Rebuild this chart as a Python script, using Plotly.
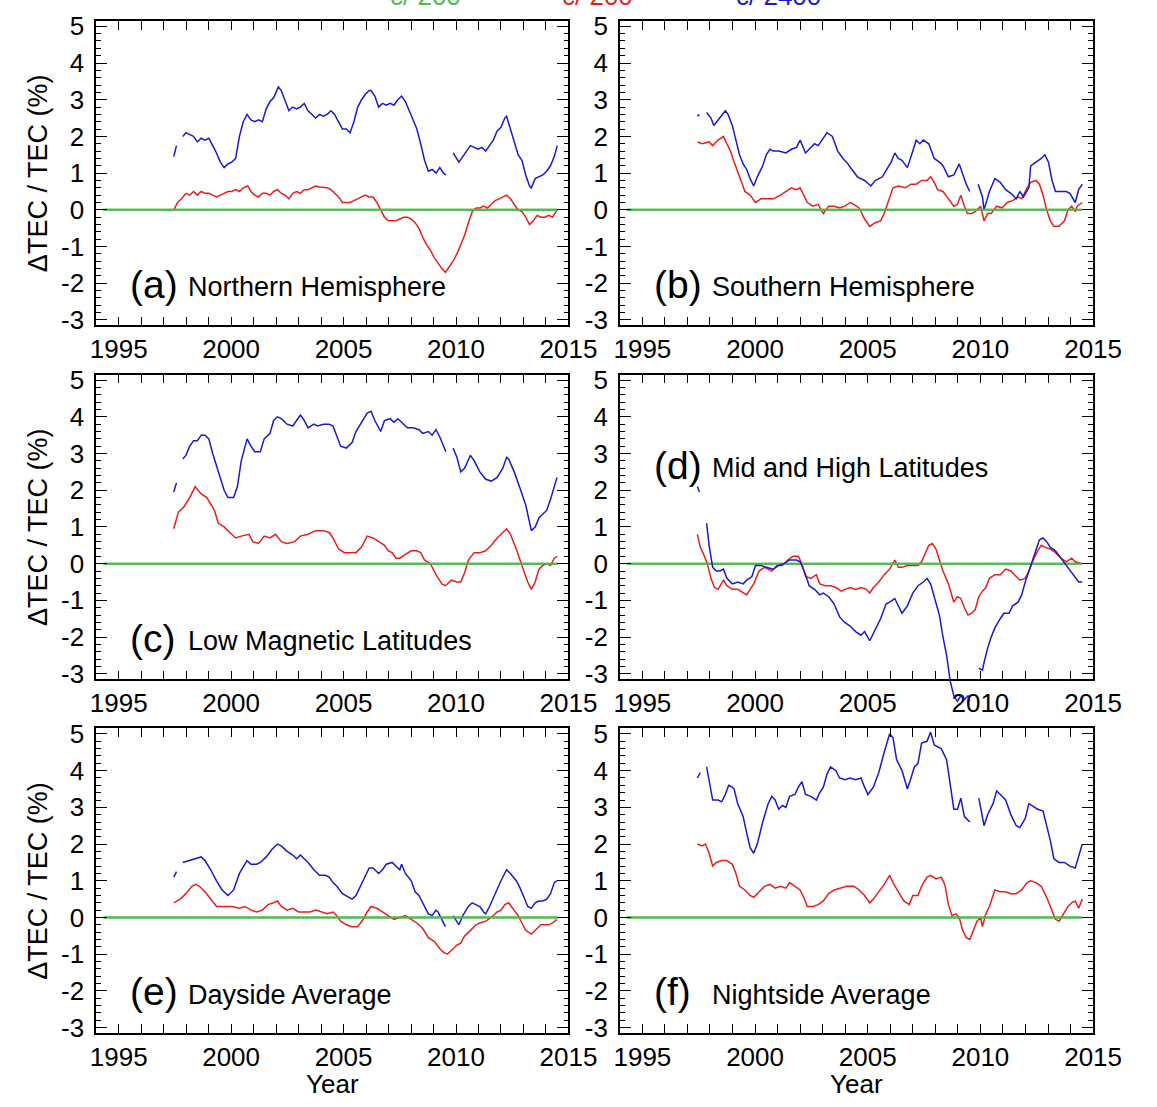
import plotly.graph_objects as go

# ---------------- data (year, dTEC/TEC %) ; None marks a gap ----------------
a_blue = [(1997.45,1.45),(1997.57,1.75),None,
 (1997.85,2.0),(1997.99,2.1),(1998.16,2.05),(1998.33,2.0),(1998.50,1.85),(1998.67,1.95),(1998.84,1.9),(1999.01,1.95),
 (1999.18,1.75),(1999.35,1.55),(1999.52,1.3),(1999.69,1.15),(1999.86,1.25),(2000.03,1.3),(2000.20,1.4),(2000.37,2.0),
 (2000.54,2.4),(2000.71,2.6),(2000.88,2.45),(2001.05,2.4),(2001.22,2.45),(2001.39,2.4),(2001.56,2.75),(2001.73,2.95),
 (2001.89,3.05),(2002.10,3.35),(2002.23,3.25),(2002.40,3.0),(2002.57,2.7),(2002.74,2.8),(2002.91,2.75),(2003.08,2.8),
 (2003.25,2.9),(2003.42,2.7),(2003.59,2.6),(2003.76,2.5),(2003.93,2.6),(2004.10,2.55),(2004.27,2.6),(2004.44,2.7),
 (2004.60,2.6),(2004.78,2.4),(2004.95,2.2),(2005.12,2.2),(2005.29,2.1),(2005.46,2.4),(2005.63,2.8),(2005.80,3.0),
 (2005.97,3.15),(2006.14,3.25),(2006.22,3.25),(2006.39,3.1),(2006.56,2.8),(2006.73,2.9),(2006.90,2.85),(2007.07,2.9),
 (2007.24,2.85),(2007.41,3.0),(2007.58,3.1),(2007.75,2.95),(2007.92,2.7),(2008.09,2.4),(2008.26,2.2),(2008.43,1.8),
 (2008.60,1.35),(2008.77,1.05),(2008.94,1.1),(2009.11,1.0),(2009.28,1.15),(2009.45,1.0),(2009.55,0.95),None,
 (2009.87,1.55),(2010.04,1.4),(2010.13,1.3),(2010.30,1.45),(2010.47,1.6),(2010.64,1.75),(2010.81,1.7),(2010.98,1.65),
 (2011.15,1.7),(2011.32,1.6),(2011.49,1.75),(2011.66,1.9),(2011.83,2.15),(2012.00,2.25),(2012.17,2.5),(2012.25,2.55),
 (2012.42,2.2),(2012.59,1.85),(2012.76,1.5),(2012.93,1.35),(2013.10,0.95),(2013.27,0.65),(2013.35,0.6),(2013.52,0.85),
 (2013.69,0.9),(2013.86,0.95),(2014.03,1.05),(2014.20,1.2),(2014.37,1.45),(2014.50,1.75)]

a_red = [(1997.45,0.0),(1997.62,0.2),(1997.80,0.3),(1997.99,0.45),(1998.16,0.4),(1998.33,0.5),(1998.50,0.4),(1998.67,0.5),
 (1998.84,0.45),(1999.01,0.45),(1999.18,0.4),(1999.35,0.35),(1999.52,0.4),(1999.69,0.45),(1999.86,0.5),(2000.03,0.5),
 (2000.20,0.55),(2000.37,0.5),(2000.54,0.6),(2000.74,0.65),(2000.88,0.5),(2001.05,0.4),(2001.22,0.35),(2001.39,0.45),
 (2001.56,0.45),(2001.73,0.4),(2001.89,0.5),(2002.06,0.55),(2002.23,0.45),(2002.40,0.4),(2002.57,0.3),(2002.74,0.45),
 (2002.91,0.5),(2003.08,0.45),(2003.25,0.55),(2003.42,0.55),(2003.59,0.6),(2003.76,0.65),(2003.93,0.62),(2004.10,0.6),
 (2004.27,0.6),(2004.44,0.55),(2004.60,0.45),(2004.78,0.35),(2004.95,0.2),(2005.12,0.2),(2005.29,0.2),(2005.46,0.25),
 (2005.63,0.3),(2005.80,0.35),(2005.97,0.4),(2006.14,0.35),(2006.31,0.35),(2006.48,0.2),(2006.65,0.0),(2006.82,-0.2),
 (2006.99,-0.3),(2007.16,-0.3),(2007.33,-0.3),(2007.50,-0.25),(2007.67,-0.2),(2007.84,-0.2),(2008.01,-0.25),(2008.18,-0.35),
 (2008.35,-0.5),(2008.52,-0.75),(2008.69,-0.95),(2008.86,-1.1),(2009.03,-1.3),(2009.20,-1.45),(2009.37,-1.6),(2009.53,-1.7),
 (2009.70,-1.55),(2009.87,-1.4),(2010.04,-1.2),(2010.21,-0.95),(2010.38,-0.7),(2010.55,-0.35),(2010.72,-0.05),(2010.89,0.05),
 (2011.06,0.05),(2011.23,0.1),(2011.40,0.05),(2011.57,0.15),(2011.74,0.25),(2011.91,0.3),(2012.08,0.35),(2012.25,0.4),
 (2012.42,0.3),(2012.59,0.15),(2012.76,0.0),(2012.93,-0.05),(2013.10,-0.2),(2013.27,-0.4),(2013.44,-0.3),(2013.61,-0.15),
 (2013.78,-0.2),(2013.95,-0.2),(2014.12,-0.15),(2014.29,-0.2),(2014.50,0.0)]

b_blue = [(1997.44,2.55),(1997.53,2.6),None,
 (1997.85,2.65),(1998.04,2.5),(1998.17,2.3),(1998.36,2.45),(1998.52,2.55),(1998.68,2.7),(1998.80,2.6),(1998.99,2.3),
 (1999.15,1.9),(1999.31,1.5),(1999.47,1.25),(1999.63,1.1),(1999.78,0.85),(1999.94,0.65),(2000.10,0.9),(2000.34,1.2),
 (2000.50,1.5),(2000.66,1.65),(2000.81,1.6),(2001.05,1.6),(2001.37,1.55),(2001.61,1.65),(2001.84,1.7),(2002.00,1.9),
 (2002.24,1.55),(2002.40,1.65),(2002.64,1.8),(2002.80,1.75),(2002.98,1.9),(2003.19,2.1),(2003.43,2.0),(2003.67,1.6),
 (2003.90,1.4),(2004.06,1.3),(2004.30,1.1),(2004.54,0.9),(2004.86,0.8),(2005.14,0.65),(2005.33,0.8),(2005.65,0.9),
 (2005.89,1.15),(2006.04,1.3),(2006.20,1.55),(2006.36,1.4),(2006.52,1.35),(2006.76,1.15),(2007.00,1.6),(2007.15,1.9),
 (2007.31,1.8),(2007.47,1.9),(2007.71,1.8),(2007.95,1.4),(2008.18,1.3),(2008.34,1.2),(2008.58,0.9),(2008.82,0.95),
 (2009.06,1.25),(2009.21,1.0),(2009.37,0.7),(2009.53,0.5),None,
 (2009.90,0.7),(2010.09,0.35),(2010.16,0.0),(2010.40,0.5),(2010.64,0.85),(2010.88,0.75),(2011.12,0.55),(2011.35,0.45),
 (2011.59,0.3),(2011.75,0.5),(2011.91,0.35),(2012.15,0.6),(2012.23,1.2),(2012.46,1.3),(2012.70,1.4),(2012.86,1.5),
 (2013.02,1.3),(2013.18,0.8),(2013.33,0.5),(2013.57,0.5),(2013.81,0.5),(2013.97,0.45),(2014.21,0.2),(2014.36,0.55),
 (2014.52,0.7)]

b_red = [(1997.44,1.85),(1997.65,1.8),(1997.96,1.85),(1998.12,1.75),(1998.36,1.9),(1998.60,2.0),(1998.75,1.8),(1998.91,1.6),
 (1999.07,1.3),(1999.31,0.9),(1999.55,0.5),(1999.78,0.4),(2000.02,0.2),(2000.26,0.3),(2000.50,0.3),(2000.81,0.3),
 (2001.13,0.4),(2001.37,0.5),(2001.61,0.6),(2001.84,0.55),(2002.00,0.6),(2002.16,0.4),(2002.32,0.2),(2002.56,0.1),
 (2002.80,0.15),(2003.03,-0.1),(2003.27,0.1),(2003.51,0.1),(2003.75,0.05),(2003.98,0.1),(2004.22,0.2),(2004.38,0.15),
 (2004.62,0.05),(2004.86,-0.25),(2005.09,-0.45),(2005.33,-0.35),(2005.57,-0.3),(2005.73,-0.1),(2005.89,0.2),(2006.12,0.6),
 (2006.36,0.65),(2006.68,0.6),(2006.92,0.7),(2007.15,0.7),(2007.39,0.8),(2007.63,0.8),(2007.79,0.9),(2007.95,0.75),
 (2008.10,0.55),(2008.34,0.5),(2008.58,0.3),(2008.82,0.1),(2008.98,0.15),(2009.13,0.4),(2009.29,0.1),(2009.42,-0.1),
 (2009.61,-0.1),(2009.77,-0.05),(2009.93,0.05),(2010.01,0.1),(2010.16,-0.3),(2010.32,-0.1),(2010.48,-0.1),(2010.72,0.1),
 (2010.96,0.05),(2011.19,0.2),(2011.43,0.25),(2011.67,0.35),(2011.83,0.3),(2012.07,0.6),(2012.23,0.75),(2012.46,0.8),
 (2012.62,0.7),(2012.78,0.4),(2012.94,0.0),(2013.10,-0.3),(2013.26,-0.45),(2013.49,-0.45),(2013.73,-0.3),(2013.89,0.0),
 (2014.05,0.1),(2014.21,-0.05),(2014.29,0.1),(2014.52,0.2)]

c_blue = [(1997.45,1.95),(1997.57,2.2),None,
 (1997.85,2.85),(1997.99,2.95),(1998.16,3.2),(1998.33,3.35),(1998.50,3.35),(1998.67,3.5),(1998.84,3.5),(1999.01,3.4),
 (1999.18,3.0),(1999.43,2.5),(1999.69,2.0),(1999.86,1.8),(2000.11,1.8),(2000.28,2.1),(2000.45,2.8),(2000.71,3.4),
 (2000.88,3.2),(2001.05,3.05),(2001.30,3.05),(2001.47,3.4),(2001.73,3.55),(2001.89,3.9),(2002.06,4.0),(2002.23,3.95),
 (2002.49,3.8),(2002.74,3.75),(2002.91,3.9),(2003.08,4.05),(2003.25,3.9),(2003.42,3.7),(2003.68,3.8),(2003.85,3.75),
 (2004.10,3.8),(2004.36,3.8),(2004.53,3.75),(2004.70,3.5),(2004.87,3.2),(2005.12,3.15),(2005.38,3.3),(2005.55,3.6),
 (2005.80,3.85),(2006.05,4.1),(2006.22,4.15),(2006.39,3.9),(2006.65,3.6),(2006.82,3.9),(2007.07,3.95),(2007.24,3.85),
 (2007.41,3.95),(2007.58,3.85),(2007.84,3.7),(2008.09,3.7),(2008.35,3.65),(2008.52,3.55),(2008.77,3.6),(2008.94,3.5),
 (2009.11,3.65),(2009.28,3.45),(2009.55,3.05),None,
 (2009.87,3.15),(2010.04,2.9),(2010.21,2.5),(2010.38,2.6),(2010.64,2.95),(2010.81,2.8),(2011.06,2.5),(2011.32,2.3),
 (2011.57,2.25),(2011.83,2.35),(2012.08,2.6),(2012.25,2.9),(2012.34,2.85),(2012.59,2.5),(2012.85,2.05),(2013.10,1.6),
 (2013.35,0.9),(2013.52,1.0),(2013.69,1.25),(2013.86,1.35),(2014.03,1.45),(2014.20,1.75),(2014.37,2.1),(2014.49,2.35)]

c_red = [(1997.45,0.95),(1997.65,1.4),(1997.90,1.55),(1998.16,1.8),(1998.40,2.1),(1998.67,1.9),(1998.92,1.8),(1999.26,1.45),
 (1999.43,1.1),(1999.69,1.0),(1999.94,0.85),(2000.20,0.7),(2000.45,0.75),(2000.79,0.8),(2000.96,0.6),(2001.22,0.55),
 (2001.47,0.75),(2001.73,0.7),(2001.98,0.8),(2002.23,0.6),(2002.49,0.55),(2002.83,0.6),(2003.08,0.75),(2003.42,0.8),
 (2003.76,0.9),(2004.10,0.9),(2004.36,0.85),(2004.53,0.7),(2004.78,0.4),(2005.04,0.3),(2005.29,0.3),(2005.55,0.3),
 (2005.80,0.45),(2006.05,0.75),(2006.31,0.7),(2006.56,0.6),(2006.82,0.5),(2006.99,0.35),(2007.16,0.3),(2007.33,0.15),
 (2007.50,0.15),(2007.75,0.25),(2008.01,0.35),(2008.26,0.35),(2008.43,0.3),(2008.60,0.1),(2008.86,0.0),(2009.11,-0.3),
 (2009.37,-0.55),(2009.53,-0.6),(2009.79,-0.45),(2010.04,-0.5),(2010.21,-0.5),(2010.38,-0.25),(2010.55,0.1),(2010.81,0.3),
 (2011.06,0.3),(2011.32,0.35),(2011.57,0.5),(2011.83,0.7),(2012.08,0.85),(2012.25,0.95),(2012.42,0.8),(2012.68,0.4),
 (2012.93,-0.05),(2013.19,-0.5),(2013.35,-0.7),(2013.52,-0.5),(2013.69,-0.15),(2013.86,-0.05),(2014.03,0.0),(2014.20,-0.05),
 (2014.37,0.15),(2014.49,0.2)]

d_blue = [(1997.44,2.1),(1997.53,1.95),None,
 (1997.85,1.1),(1997.96,0.5),(1998.12,-0.1),(1998.28,-0.2),(1998.44,-0.2),(1998.60,-0.15),(1998.75,-0.4),(1998.99,-0.55),
 (1999.23,-0.5),(1999.47,-0.55),(1999.63,-0.45),(1999.86,-0.35),(2000.02,-0.05),(2000.26,-0.05),(2000.50,-0.1),
 (2000.81,-0.15),(2001.05,-0.05),(2001.29,0.0),(2001.53,0.1),(2001.84,0.1),(2002.00,0.05),(2002.24,-0.3),(2002.40,-0.6),
 (2002.64,-0.7),(2002.87,-0.85),(2003.03,-0.8),(2003.27,-0.9),(2003.51,-1.1),(2003.75,-1.45),(2003.98,-1.6),(2004.22,-1.7),
 (2004.46,-1.85),(2004.70,-1.95),(2004.86,-1.85),(2005.09,-2.1),(2005.33,-1.8),(2005.57,-1.5),(2005.81,-1.1),(2005.97,-1.05),
 (2006.20,-0.95),(2006.36,-1.15),(2006.52,-1.35),(2006.76,-1.15),(2007.00,-0.8),(2007.23,-0.6),(2007.47,-0.5),(2007.63,-0.4),
 (2007.79,-0.55),(2007.95,-0.9),(2008.18,-1.4),(2008.34,-2.0),(2008.50,-2.5),(2008.66,-3.2),(2008.82,-3.6),(2008.98,-3.75),
 (2009.13,-3.6),(2009.29,-3.7),(2009.45,-3.6),(2009.53,-3.75),None,
 (2009.93,-2.85),(2010.09,-2.9),(2010.16,-2.7),(2010.32,-2.3),(2010.48,-2.0),(2010.64,-1.75),(2010.88,-1.5),(2011.04,-1.35),
 (2011.27,-1.35),(2011.43,-1.15),(2011.67,-1.05),(2011.83,-0.85),(2011.99,-0.5),(2012.15,-0.2),(2012.30,0.1),(2012.46,0.4),
 (2012.62,0.65),(2012.78,0.7),(2012.94,0.6),(2013.10,0.45),(2013.33,0.35),(2013.57,0.15),(2013.81,-0.05),(2013.97,-0.2),
 (2014.21,-0.4),(2014.36,-0.5),(2014.52,-0.5)]

d_red = [(1997.44,0.8),(1997.57,0.45),(1997.72,0.25),(1997.88,0.0),(1998.04,-0.4),(1998.20,-0.65),(1998.36,-0.7),(1998.60,-0.45),
 (1998.75,-0.6),(1998.99,-0.7),(1999.23,-0.7),(1999.47,-0.8),(1999.63,-0.85),(1999.78,-0.7),(1999.94,-0.55),(2000.18,-0.2),
 (2000.42,-0.1),(2000.74,-0.2),(2000.97,-0.05),(2001.21,-0.05),(2001.45,0.1),(2001.69,0.2),(2001.92,0.2),(2002.08,0.0),
 (2002.24,-0.35),(2002.48,-0.4),(2002.72,-0.3),(2002.87,-0.55),(2003.11,-0.6),(2003.35,-0.6),(2003.59,-0.65),(2003.83,-0.75),
 (2003.98,-0.7),(2004.22,-0.65),(2004.46,-0.7),(2004.70,-0.65),(2004.94,-0.7),(2005.09,-0.8),(2005.25,-0.65),(2005.49,-0.5),
 (2005.73,-0.3),(2005.97,-0.15),(2006.20,0.1),(2006.36,-0.1),(2006.52,-0.1),(2006.76,-0.05),(2007.00,-0.05),(2007.23,-0.05),
 (2007.39,0.05),(2007.55,0.3),(2007.71,0.5),(2007.87,0.55),(2008.03,0.4),(2008.18,0.1),(2008.34,-0.2),(2008.58,-0.55),
 (2008.82,-1.05),(2008.98,-0.9),(2009.13,-0.95),(2009.29,-1.2),(2009.45,-1.4),(2009.61,-1.35),(2009.77,-1.25),(2009.93,-0.9),
 (2010.09,-0.75),(2010.24,-0.65),(2010.40,-0.4),(2010.64,-0.3),(2010.88,-0.3),(2011.12,-0.15),(2011.35,-0.2),(2011.51,-0.3),
 (2011.75,-0.45),(2011.99,-0.4),(2012.15,-0.2),(2012.38,0.15),(2012.54,0.35),(2012.70,0.5),(2012.86,0.45),(2013.10,0.4),
 (2013.33,0.3),(2013.57,0.15),(2013.81,0.05),(2014.05,0.15),(2014.21,0.05),(2014.52,0.0)]

e_blue = [(1997.45,1.1),(1997.57,1.25),None,
 (1997.85,1.5),(1998.16,1.55),(1998.40,1.6),(1998.67,1.65),(1998.84,1.55),(1999.09,1.3),(1999.35,1.0),(1999.60,0.75),
 (1999.86,0.6),(2000.11,0.75),(2000.37,1.2),(2000.71,1.55),(2000.88,1.45),(2001.13,1.45),(2001.30,1.5),(2001.56,1.65),
 (2001.81,1.85),(2002.06,2.0),(2002.23,1.95),(2002.49,1.8),(2002.74,1.7),(2002.91,1.6),(2003.08,1.7),(2003.25,1.6),
 (2003.42,1.5),(2003.68,1.3),(2003.93,1.15),(2004.19,1.15),(2004.36,1.1),(2004.53,0.95),(2004.70,0.85),(2004.95,0.65),
 (2005.21,0.55),(2005.38,0.5),(2005.55,0.6),(2005.71,0.8),(2005.97,1.1),(2006.14,1.35),(2006.31,1.35),(2006.56,1.2),
 (2006.73,1.3),(2006.90,1.45),(2007.16,1.5),(2007.33,1.4),(2007.50,1.3),(2007.58,1.45),(2007.75,1.2),(2008.01,1.0),
 (2008.18,0.7),(2008.35,0.6),(2008.52,0.4),(2008.77,0.1),(2008.94,0.05),(2009.11,0.2),(2009.20,0.15),(2009.37,-0.05),
 (2009.53,-0.25),None,
 (2009.87,0.05),(2010.04,-0.1),(2010.13,-0.2),(2010.30,0.05),(2010.55,0.3),(2010.72,0.4),(2010.89,0.35),(2011.06,0.3),
 (2011.23,0.15),(2011.32,0.1),(2011.49,0.3),(2011.74,0.65),(2012.00,1.0),(2012.25,1.3),(2012.42,1.2),(2012.68,1.0),
 (2012.85,0.8),(2013.02,0.55),(2013.19,0.3),(2013.35,0.25),(2013.52,0.4),(2013.69,0.45),(2013.86,0.45),(2014.03,0.5),
 (2014.20,0.65),(2014.37,0.95),(2014.49,1.0)]

e_red = [(1997.45,0.4),(1997.74,0.5),(1997.99,0.65),(1998.25,0.85),(1998.42,0.9),(1998.59,0.85),(1998.84,0.7),(1999.09,0.5),
 (1999.35,0.3),(1999.69,0.3),(2000.03,0.3),(2000.37,0.25),(2000.62,0.3),(2000.88,0.2),(2001.13,0.15),(2001.39,0.2),
 (2001.64,0.35),(2001.89,0.4),(2002.06,0.45),(2002.23,0.3),(2002.49,0.2),(2002.74,0.25),(2003.00,0.15),(2003.25,0.15),
 (2003.51,0.15),(2003.76,0.2),(2004.02,0.15),(2004.27,0.1),(2004.53,0.15),(2004.70,0.05),(2004.87,-0.1),(2005.12,-0.2),
 (2005.38,-0.25),(2005.63,-0.25),(2005.88,-0.05),(2006.05,0.15),(2006.22,0.3),(2006.48,0.25),(2006.73,0.15),(2006.99,0.05),
 (2007.24,-0.05),(2007.50,0.0),(2007.75,0.05),(2008.01,-0.05),(2008.26,-0.15),(2008.52,-0.3),(2008.77,-0.55),(2009.03,-0.65),
 (2009.28,-0.85),(2009.45,-0.95),(2009.62,-1.0),(2009.79,-0.9),(2010.04,-0.75),(2010.21,-0.7),(2010.38,-0.5),(2010.64,-0.35),
 (2010.89,-0.2),(2011.06,-0.15),(2011.32,-0.1),(2011.57,0.0),(2011.83,0.15),(2012.00,0.2),(2012.17,0.35),(2012.34,0.4),
 (2012.51,0.25),(2012.76,0.05),(2012.93,-0.15),(2013.10,-0.35),(2013.35,-0.45),(2013.52,-0.35),(2013.78,-0.2),(2014.12,-0.2),
 (2014.29,-0.15),(2014.49,-0.05)]

f_blue = [(1997.44,3.8),(1997.57,3.95),None,
 (1997.85,4.1),(1997.96,3.7),(1998.12,3.2),(1998.36,3.2),(1998.52,3.15),(1998.68,3.35),(1998.83,3.6),(1998.99,3.55),
 (1999.07,3.5),(1999.23,3.1),(1999.47,2.75),(1999.63,2.3),(1999.78,1.9),(1999.94,1.75),(2000.10,2.0),(2000.34,2.6),
 (2000.58,3.1),(2000.74,3.3),(2000.89,3.2),(2001.05,2.95),(2001.21,3.05),(2001.37,3.0),(2001.53,3.3),(2001.77,3.35),
 (2001.92,3.55),(2002.08,3.7),(2002.24,3.35),(2002.48,3.3),(2002.72,3.2),(2002.87,3.4),(2003.03,3.55),(2003.19,3.9),
 (2003.35,4.1),(2003.59,4.0),(2003.75,3.8),(2003.98,3.75),(2004.22,3.8),(2004.46,3.75),(2004.70,3.8),(2004.86,3.55),
 (2005.01,3.35),(2005.25,3.55),(2005.49,3.95),(2005.73,4.5),(2005.97,5.0),(2006.12,4.9),(2006.28,4.3),(2006.52,4.0),
 (2006.76,3.5),(2006.92,3.8),(2007.07,4.1),(2007.23,4.2),(2007.39,4.75),(2007.63,4.8),(2007.79,5.05),(2007.95,4.7),
 (2008.10,4.65),(2008.26,4.6),(2008.50,4.3),(2008.66,3.6),(2008.82,2.95),(2008.98,2.95),(2009.13,3.25),(2009.29,2.75),
 (2009.53,2.6),None,
 (2009.93,3.25),(2010.09,2.75),(2010.16,2.5),(2010.32,2.8),(2010.56,3.1),(2010.72,3.45),(2010.96,3.3),(2011.12,3.2),
 (2011.35,2.8),(2011.59,2.5),(2011.75,2.45),(2011.99,2.7),(2012.15,3.1),(2012.38,3.0),(2012.54,2.95),(2012.78,2.9),
 (2012.94,2.5),(2013.10,2.1),(2013.26,1.6),(2013.49,1.5),(2013.73,1.5),(2013.97,1.4),(2014.21,1.35),(2014.36,1.7),
 (2014.52,2.0)]

f_red = [(1997.44,2.0),(1997.65,1.95),(1997.80,2.0),(1997.96,1.75),(1998.12,1.4),(1998.28,1.5),(1998.52,1.55),(1998.75,1.55),
 (1998.99,1.45),(1999.15,1.2),(1999.31,0.85),(1999.55,0.75),(1999.78,0.6),(1999.94,0.55),(2000.18,0.7),(2000.42,0.85),
 (2000.66,0.9),(2000.89,0.8),(2001.13,0.85),(2001.37,0.8),(2001.53,0.95),(2001.77,0.85),(2002.00,0.75),(2002.16,0.55),
 (2002.32,0.3),(2002.56,0.3),(2002.80,0.35),(2003.03,0.45),(2003.27,0.65),(2003.51,0.75),(2003.75,0.8),(2004.06,0.85),
 (2004.38,0.85),(2004.62,0.75),(2004.86,0.6),(2005.09,0.4),(2005.25,0.5),(2005.49,0.7),(2005.73,0.9),(2005.97,1.15),
 (2006.12,0.95),(2006.36,0.7),(2006.60,0.45),(2006.84,0.35),(2007.00,0.6),(2007.23,0.6),(2007.39,0.85),(2007.63,1.1),
 (2007.79,1.15),(2008.03,1.05),(2008.26,1.1),(2008.42,0.9),(2008.58,0.35),(2008.74,0.05),(2008.90,0.1),(2009.06,0.0),
 (2009.21,-0.35),(2009.37,-0.55),(2009.53,-0.6),(2009.69,-0.35),(2009.85,-0.1),(2010.01,0.0),(2010.09,-0.25),(2010.24,0.1),
 (2010.40,0.3),(2010.64,0.75),(2010.88,0.7),(2011.12,0.7),(2011.35,0.65),(2011.59,0.65),(2011.83,0.75),(2012.07,0.95),
 (2012.23,1.0),(2012.46,0.95),(2012.70,0.85),(2012.94,0.55),(2013.18,0.2),(2013.33,-0.05),(2013.49,-0.1),(2013.73,0.15),
 (2013.89,0.3),(2014.05,0.4),(2014.21,0.45),(2014.36,0.25),(2014.52,0.5)]

zero_years = [1994.3, 2014.5]
zero_vals = [0.0, 0.0]

panel_letters = ["(a)", "(b)", "(c)", "(d)", "(e)", "(f)"]
panel_names = ["Northern Hemisphere", "Southern Hemisphere", "Low Magnetic Latitudes",
               "Mid and High Latitudes", "Dayside Average", "Nightside Average"]
legend_texts = ["c/ 200", "c/ 200", "c/ 2400"]
x_tick_years = list(range(1995, 2016))
y_major_vals = [-3, -2, -1, 0, 1, 2, 3, 4, 5]
y_all_vals = [round(-3.0 + 0.2 * k, 1) for k in range(41)]
y_all_text = [(str(int(round(v))) if abs(v - round(v)) < 1e-9 else "") for v in y_all_vals]

# ---------------- figure ----------------
W, H = 1157, 1107
BLUE = "rgb(25,25,205)"
RED = "rgb(232,30,30)"
GREEN = "rgb(80,185,80)"
FONT = "Liberation Sans, Arial, sans-serif"

col_px = [(93, 580), (633, 1121)]
row_top_px = [12, 372, 732]
PH = 310
YR = [-3.15, 5.15]


def split(pts):
    xs, ys = [], []
    for p in pts:
        if p is None:
            xs.append(None); ys.append(None)
        else:
            xs.append(p[0]); ys.append(p[1])
    return xs, ys


fig = go.Figure()
layout = dict(width=W, height=H, margin=dict(l=0, r=0, t=0, b=0),
              paper_bgcolor="white", plot_bgcolor="rgba(0,0,0,0)", showlegend=False,
              font=dict(family=FONT, color="black"))

series = [(a_red, a_blue), (b_red, b_blue), (c_red, c_blue),
          (d_red, d_blue), (e_red, e_blue), (f_red, f_blue)]

annotations = []
for i in range(6):
    r, c = divmod(i, 2)
    n = i + 1
    xn = "x" if n == 1 else f"x{n}"
    yn = "y" if n == 1 else f"y{n}"
    x0, x1 = col_px[c]
    top = row_top_px[r]
    xd = [x0 / W, x1 / W]
    yd = [1 - (top + PH) / H, 1 - top / H]
    layout["xaxis" if n == 1 else f"xaxis{n}"] = dict(
        domain=xd, anchor=yn, range=[1994, 2015], tickmode="array",
        tickvals=x_tick_years, ticktext=[str(v) if v % 5 == 0 else "" for v in x_tick_years],
        ticks="inside", ticklen=9, tickwidth=1.3, tickcolor="black",
        showline=True, linecolor="black", linewidth=1.5, mirror="ticks",
        showgrid=False, zeroline=False, ticklabelstandoff=0,
        tickfont=dict(family=FONT, size=26, color="black"))
    # main y axis: short ticks every 0.2, labels at whole numbers
    layout["yaxis" if n == 1 else f"yaxis{n}"] = dict(
        domain=yd, anchor=xn, range=YR, tickmode="array",
        tickvals=y_all_vals, ticktext=y_all_text,
        ticks="inside", ticklen=5, tickwidth=1.1, tickcolor="black",
        showline=True, linecolor="black", linewidth=1.5, mirror="ticks",
        showgrid=False, zeroline=False, ticklabelstandoff=5,
        tickfont=dict(family=FONT, size=26, color="black"))
    # long ticks at whole numbers on an overlaid axis with the same scale
    layout[f"yaxis{n + 7}"] = dict(
        overlaying=yn, anchor=xn, side="left", range=YR, tickmode="array",
        tickvals=y_major_vals, showticklabels=False,
        ticks="inside", ticklen=11, tickwidth=1.3, tickcolor="black",
        showline=False, mirror="ticks", showgrid=False, zeroline=False)

    red_pts, blue_pts = series[i]
    fig.add_trace(go.Scatter(x=zero_years, y=zero_vals, mode="lines",
                             line=dict(color=GREEN, width=2), xaxis=xn, yaxis=yn))
    rx, ry = split(red_pts)
    fig.add_trace(go.Scatter(x=rx, y=ry, mode="lines", line=dict(color=RED, width=1.5),
                             connectgaps=False, xaxis=xn, yaxis=yn))
    bx, by = split(blue_pts)
    if i == 3:
        # blue curve of panel (d) runs below the frame: draw it on an extended, hidden axis
        ext = 1.0
        ext_frac = PH / H * ext / (YR[1] - YR[0])
        layout["yaxis7"] = dict(domain=[yd[0] - ext_frac, yd[1]], anchor=xn,
                                range=[YR[0] - ext, YR[1]], visible=False,
                                showgrid=False, zeroline=False)
        fig.add_trace(go.Scatter(x=bx, y=by, mode="lines", line=dict(color=BLUE, width=1.5),
                                 connectgaps=False, xaxis=xn, yaxis="y7"))
    else:
        fig.add_trace(go.Scatter(x=bx, y=by, mode="lines", line=dict(color=BLUE, width=1.5),
                                 connectgaps=False, xaxis=xn, yaxis=yn))
    # zero-line copy on the overlaid axis so that axis is drawn
    fig.add_trace(go.Scatter(x=zero_years, y=zero_vals, mode="lines",
                             line=dict(color=GREEN, width=2), xaxis=xn, yaxis=f"y{n + 7}",
                             hoverinfo="skip"))

    # panel labels
    lab_y = top + (92 if i == 3 else 268)
    lx = 126 if c == 0 else 666
    tx = 186 if c == 0 else 726
    annotations.append(dict(x=lx / W, y=1 - lab_y / H, xref="paper", yref="paper",
                            text=panel_letters[i], showarrow=False, xanchor="left",
                            yanchor="middle", font=dict(family=FONT, size=39, color="black")))
    annotations.append(dict(x=tx / W, y=1 - (lab_y + 3) / H, xref="paper", yref="paper",
                            text=panel_names[i], showarrow=False, xanchor="left",
                            yanchor="middle", font=dict(family=FONT, size=27, color="black")))

# y-axis titles (left column)
for top in row_top_px:
    annotations.append(dict(x=33 / W, y=1 - (top + PH / 2) / H, xref="paper", yref="paper",
                            text="ΔTEC / TEC (%)", textangle=-90, showarrow=False,
                            xanchor="center", yanchor="middle",
                            font=dict(family=FONT, size=27, color="black")))
# x-axis titles (bottom row)
for cx in [337, 877]:
    annotations.append(dict(x=cx / W, y=1 - 1094 / H, xref="paper", yref="paper",
                            text="Year", showarrow=False, xanchor="center", yanchor="middle",
                            font=dict(family=FONT, size=26, color="black")))
# legend line cut off at the top of the image
for txt, cx, col in zip(legend_texts, [433, 610, 797], [GREEN, RED, BLUE]):
    annotations.append(dict(x=cx / W, y=1, xref="paper", yref="paper", text=txt,
                            showarrow=False, xanchor="center", yanchor="bottom", yshift=-4,
                            font=dict(family=FONT, size=26, color=col)))

layout["annotations"] = annotations
fig.update_layout(**layout)
fig.write_html("out.html")
